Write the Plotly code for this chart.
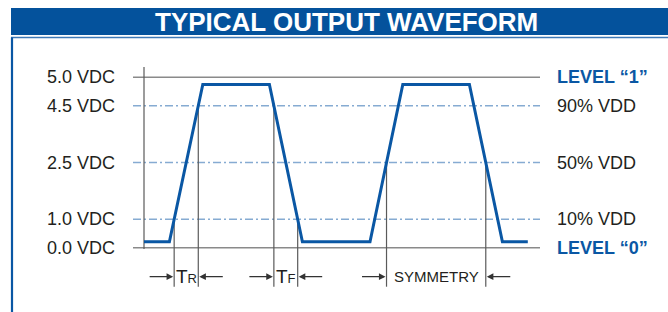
import numpy as np
import plotly.graph_objects as go

# ---- data (schematic waveform) ----
# time axis in arbitrary units, level axis in schematic units
wave_t = [0, 12.7, 29.4, 62.7, 79.2, 113, 129.4, 162.7, 179.2, 191.9]
wave_level = [0.21, 0.21, 5.75, 5.75, 0.21, 0.21, 5.75, 5.75, 0.21, 0.21]

level_labels = ["0.0 VDC", "1.0 VDC", "2.5 VDC", "4.5 VDC", "5.0 VDC"]
level_pos = [0, 1, 3, 5, 6]
right_labels = ["LEVEL \u201c0\u201d", "10% VDD", "50% VDD", "90% VDD", "LEVEL \u201c1\u201d"]
solid_levels = [0, 6]
dashed_levels = [1, 3, 5]

title_text = "TYPICAL OUTPUT WAVEFORM"

# ---- geometry helpers ----
W, H = 668, 312
x_range = [-72, 262]
y_range = [-2.264, 8.722]

def px(xp):
    return xp / W

def py(yp):
    return 1 - yp / H

t = np.array(wave_t, dtype=float)
v = np.array(wave_level, dtype=float)

def crossing(seg_start, level):
    """time at which segment [seg_start, seg_start+1] crosses level"""
    t0, t1 = t[seg_start], t[seg_start + 1]
    v0, v1 = v[seg_start], v[seg_start + 1]
    return t0 + (level - v0) / (v1 - v0) * (t1 - t0)

tr_a = crossing(1, 1)
tr_b = crossing(1, 5)
tf_a = crossing(3, 5)
tf_b = crossing(3, 1)
sy_a = crossing(5, 3)
sy_b = crossing(7, 3)

BLUE = "#0a57a4"
GRAY = "#8a8a8a"
DARK = "#5a5a5a"
DASHBLUE = "#86abd2"
TEXT = "#231f20"
FONT = "Liberation Sans, Arial, sans-serif"

fig = go.Figure()

shapes = []
# banner
shapes.append(dict(type="rect", xref="paper", yref="paper", x0=px(11), x1=1.0,
                   y0=py(35), y1=py(8), fillcolor="#04529c", line=dict(width=0), layer="below"))
shapes.append(dict(type="line", xref="paper", yref="paper", x0=px(11), x1=1.0,
                   y0=py(37.5), y1=py(37.5), line=dict(color="#3d78b6", width=1.5)))
shapes.append(dict(type="line", xref="paper", yref="paper", x0=px(12), x1=px(12),
                   y0=py(37.5), y1=0, line=dict(color=BLUE, width=2.2)))

# horizontal reference lines
for lv in solid_levels:
    shapes.append(dict(type="line", xref="x", yref="y", x0=-5.5, x1=198, y0=lv, y1=lv,
                       line=dict(color=GRAY, width=1.5), layer="below"))
for lv in dashed_levels:
    shapes.append(dict(type="line", xref="x", yref="y", x0=-5.5, x1=198, y0=lv, y1=lv,
                       line=dict(color=DASHBLUE, width=1.5, dash="8px,3px,2px,3px"), layer="below"))

# left vertical line at waveform start
shapes.append(dict(type="line", xref="x", yref="y", x0=t[0], x1=t[0], y0=-0.05, y1=6.36,
                   line=dict(color=DARK, width=1.2), layer="below"))

# marker lines
bottom = -1.373
for xm, lv in [(tr_a, 1), (tr_b, 5), (tf_a, 5), (tf_b, 1), (sy_a, 3), (sy_b, 3)]:
    shapes.append(dict(type="line", xref="x", yref="y", x0=xm, x1=xm, y0=bottom, y1=lv,
                       line=dict(color=DARK, width=1.2), layer="below"))

fig.add_trace(go.Scatter(x=wave_t, y=wave_level, mode="lines",
                         line=dict(color=BLUE, width=3), hoverinfo="skip"))

annotations = []
# title
annotations.append(dict(xref="paper", yref="paper", x=px(346), y=py(22.5), text=f"<b>{title_text}</b>",
                        showarrow=False, xanchor="center", yanchor="middle",
                        font=dict(family=FONT, size=26, color="white")))

# left labels
for lab, pos in zip(level_labels, level_pos):
    annotations.append(dict(xref="paper", yref="y", x=px(117), y=pos, text=lab, showarrow=False,
                            xanchor="right", yanchor="middle",
                            font=dict(family=FONT, size=18, color=TEXT)))

# right labels
for lab, pos in zip(right_labels, level_pos):
    bold = lab.startswith("LEVEL")
    annotations.append(dict(xref="paper", yref="y", x=px(555), y=pos,
                            text=f"<b>{lab}</b>" if bold else lab, showarrow=False,
                            xanchor="left", yanchor="middle",
                            font=dict(family=FONT, size=18, color=BLUE if bold else TEXT)))

# arrows
arrow_y = -1.02
arrow_len = 12.5
for a, b in [(tr_a, tr_b), (tf_a, tf_b), (sy_a, sy_b)]:
    annotations.append(dict(xref="x", yref="y", axref="x", ayref="y", x=a - 0.5, y=arrow_y,
                            ax=a - 0.5 - arrow_len, ay=arrow_y, showarrow=True, arrowhead=2,
                            arrowsize=1.1, arrowwidth=1.2, arrowcolor="#333333", text=""))
    annotations.append(dict(xref="x", yref="y", axref="x", ayref="y", x=b + 0.5, y=arrow_y,
                            ax=b + 0.5 + arrow_len, ay=arrow_y, showarrow=True, arrowhead=2,
                            arrowsize=1.1, arrowwidth=1.2, arrowcolor="#333333", text=""))

annotations.append(dict(xref="x", yref="y", x=(tr_a + tr_b) / 2, y=arrow_y,
                        text="T<span style='font-size:13px'>R</span>", showarrow=False,
                        xanchor="center", yanchor="middle",
                        font=dict(family=FONT, size=19, color=TEXT)))
annotations.append(dict(xref="x", yref="y", x=(tf_a + tf_b) / 2, y=arrow_y,
                        text="T<span style='font-size:13px'>F</span>", showarrow=False,
                        xanchor="center", yanchor="middle",
                        font=dict(family=FONT, size=19, color=TEXT)))
annotations.append(dict(xref="x", yref="y", x=(sy_a + sy_b) / 2, y=arrow_y,
                        text="SYMMETRY", showarrow=False,
                        xanchor="center", yanchor="middle",
                        font=dict(family=FONT, size=15, color=TEXT)))

fig.update_layout(
    width=W, height=H,
    margin=dict(l=0, r=0, t=0, b=0, pad=0),
    paper_bgcolor="white", plot_bgcolor="white",
    showlegend=False,
    xaxis=dict(visible=False, range=x_range, fixedrange=True),
    yaxis=dict(visible=False, range=y_range, fixedrange=True),
    shapes=shapes,
    annotations=annotations,
)

fig.write_html("out.html", config={"displayModeBar": False},
               post_script="document.body.style.margin='0px';document.body.style.overflow='hidden';")
